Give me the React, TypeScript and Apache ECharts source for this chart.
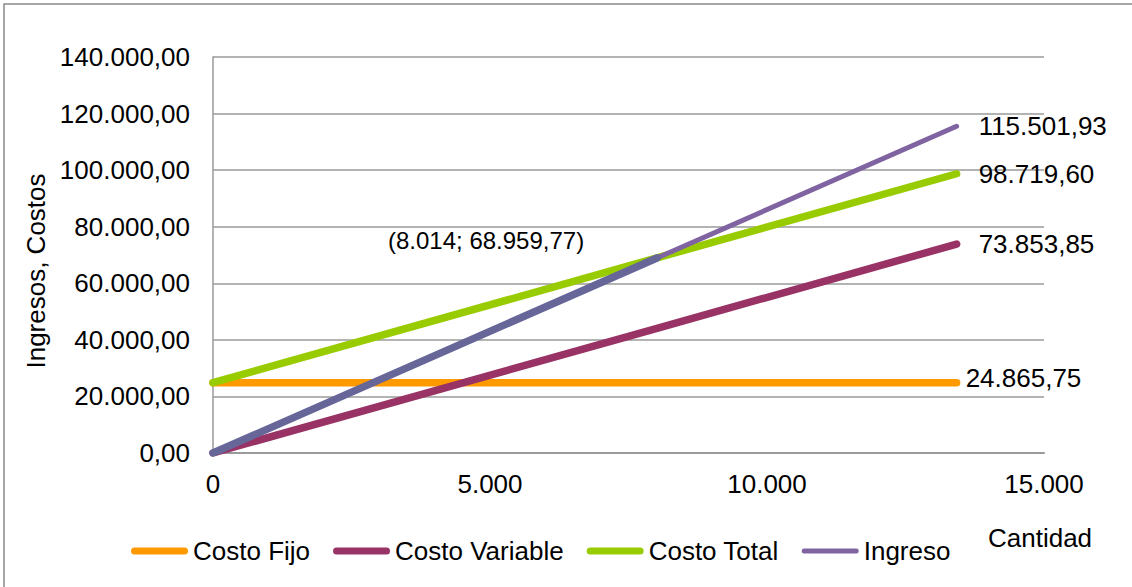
import React, { useEffect, useRef } from "react";
import * as echarts from "echarts";

// Data
const cantidades = [0, 8014, 13423];
const costoFijo = [24865.75, 24865.75, 24865.75];
const costoVariable = [0, 44094.02, 73853.85];
const costoTotal = [24865.75, 68959.77, 98719.6];
const ingreso = [0, 68959.77, 115501.93];
const puntoEquilibrio = { q: 8014, v: 68959.77 };

const seriesNames = ["Costo Fijo", "Costo Variable", "Costo Total", "Ingreso"];
const xTicks = { min: 0, max: 15000, interval: 5000 };
const yTicks = { min: 0, max: 140000, interval: 20000 };

const FONT = "'Liberation Sans', Arial, sans-serif";

function fmtEs(v: number, d: number): string {
  const s = v.toFixed(d);
  const [i, f] = s.split(".");
  const ip = i.replace(/\B(?=(\d{3})+(?!\d))/g, ".");
  return f ? ip + "," + f : ip;
}

const pairs = (ys: number[]) => cantidades.map((x, i) => [x, ys[i]]);

export default function App() {
  const ref = useRef<HTMLDivElement>(null);
  useEffect(() => {
    if (!ref.current) return;
    const chart = echarts.init(ref.current, undefined, { renderer: "svg" });
    const endLabel = (dist: number, offY = 0) => ({
      show: true,
      distance: dist,
      offset: [0, offY],
      fontSize: 26,
      fontFamily: FONT,
      color: "#000",
      formatter: (p: any) => fmtEs(p.value[1], 2),
    });
    const mkLine = (name: string, data: number[][], color: string, width: number, label: any) => ({
      name,
      type: "line",
      data,
      showSymbol: false,
      symbol: "none",
      lineStyle: { color, width, cap: "round" },
      itemStyle: { color },
      endLabel: label,
      silent: true,
    });
    const iconThick = "path://M3.5,0H53.5A3.5,3.5,0,0,1,53.5,7H3.5A3.5,3.5,0,0,1,3.5,0Z";
    const iconThin = "path://M2.5,0H54.5A2.5,2.5,0,0,1,54.5,5H2.5A2.5,2.5,0,0,1,2.5,0Z";
    chart.setOption({
      animation: false,
      textStyle: { fontFamily: FONT },
      grid: { left: 213, right: 88, top: 57, bottom: 134 },
      xAxis: {
        type: "value",
        min: xTicks.min,
        max: xTicks.max,
        interval: xTicks.interval,
        axisLine: { show: true, lineStyle: { color: "#9a9a9a", width: 2 } },
        axisTick: { show: false },
        splitLine: { show: false },
        axisLabel: {
          fontSize: 26,
          color: "#000",
          fontFamily: FONT,
          margin: 18,
          formatter: (v: number) => fmtEs(v, 0),
        },
      },
      yAxis: {
        type: "value",
        min: yTicks.min,
        max: yTicks.max,
        interval: yTicks.interval,
        axisLine: { show: true, lineStyle: { color: "#9a9a9a", width: 1.5 } },
        axisTick: { show: false },
        splitLine: { show: true, lineStyle: { color: "#9a9a9a", width: 1.5 } },
        axisLabel: {
          fontSize: 26,
          color: "#000",
          fontFamily: FONT,
          margin: 23,
          formatter: (v: number) => fmtEs(v, 2),
        },
      },
      legend: {
        left: 126,
        top: 533,
        itemWidth: 57,
        itemHeight: 7,
        itemGap: 23,
        textStyle: { fontSize: 26, color: "#000", fontFamily: FONT },
        data: [
          { name: seriesNames[0], icon: iconThick },
          { name: seriesNames[1], icon: iconThick },
          { name: seriesNames[2], icon: iconThick },
          { name: seriesNames[3], icon: iconThin },
        ],
        selectedMode: false,
      },
      series: [
        mkLine(seriesNames[0], pairs(costoFijo), "#FF9900", 7.5, endLabel(9, -5)),
        mkLine(seriesNames[1], pairs(costoVariable), "#993366", 7.5, endLabel(22)),
        mkLine(seriesNames[2], pairs(costoTotal), "#99CC00", 7.5, endLabel(22)),
        mkLine(seriesNames[3], pairs(ingreso), "#8064A2", 5, endLabel(22)),
        {
          name: "_tramo",
          type: "line",
          data: [
            [cantidades[0], ingreso[0]],
            [puntoEquilibrio.q, puntoEquilibrio.v],
          ],
          showSymbol: false,
          symbol: "none",
          lineStyle: { color: "#666699", width: 7.5, cap: "round" },
          itemStyle: { color: "#666699" },
          silent: true,
        },
      ],
      graphic: [
        {
          type: "rect",
          shape: { x: 4, y: 4, width: 1130, height: 585 },
          style: { fill: "none", stroke: "#8a8a8a", lineWidth: 1.5 },
          silent: true,
        },
        {
          type: "text",
          x: 36,
          y: 271,
          rotation: Math.PI / 2,
          style: {
            text: "Ingresos, Costos",
            fontSize: 26,
            fontFamily: FONT,
            fill: "#000",
            align: "center",
            verticalAlign: "middle",
          },
        },
        {
          type: "text",
          x: 988,
          y: 538,
          style: {
            text: "Cantidad",
            fontSize: 26,
            fontFamily: FONT,
            fill: "#000",
            align: "left",
            verticalAlign: "middle",
          },
        },
        {
          type: "text",
          x: 388,
          y: 240,
          style: {
            text: `(${fmtEs(puntoEquilibrio.q, 0)}; ${fmtEs(puntoEquilibrio.v, 2)})`,
            fontSize: 24,
            fontFamily: FONT,
            fill: "#000",
            align: "left",
            verticalAlign: "middle",
          },
        },
      ],
    });
    return () => chart.dispose();
  }, []);
  return (
    <div
      ref={ref}
      style={{ position: "absolute", left: 0, top: 0, width: 1132, height: 587, background: "#fff" }}
    />
  );
}
